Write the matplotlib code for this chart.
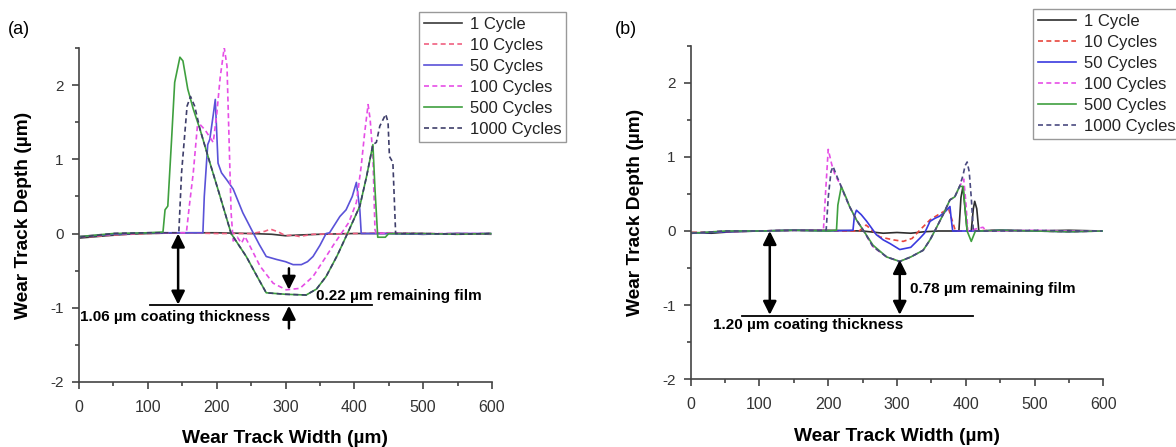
import numpy as np
import matplotlib.pyplot as plt
from matplotlib.ticker import MultipleLocator

plt.rcParams['font.family'] = ['Liberation Sans', 'DejaVu Sans']
plt.rcParams['axes.unicode_minus'] = False

labels = ['1 Cycle', '10 Cycles', '50 Cycles', '100 Cycles', '500 Cycles', '1000 Cycles']

# ---- panel (a) profiles: width (um), depth (um)
a1_x = [2, 15, 40, 70, 100, 150, 200, 250, 280, 300, 320, 350, 400, 450, 500, 550, 598]
a1_y = [-0.06, -0.05, -0.03, -0.01, 0.0, 0.01, 0.01, 0.0, -0.01, -0.03, -0.02, -0.01, 0.0, 0.0, -0.01, 0.0, -0.01]

a10_x = [2, 20, 50, 100, 150, 200, 250, 270, 278, 290, 300, 310, 320, 340, 400, 450, 500, 550, 598]
a10_y = [-0.05, -0.04, -0.02, 0.0, 0.01, 0.0, 0.0, 0.03, 0.06, 0.02, -0.03, -0.02, -0.04, -0.01, 0.0, 0.01, 0.0, -0.01, 0.0]

a50_x = [2, 50, 100, 150, 180, 182, 187, 190, 195, 198, 202, 207, 215, 224, 238, 253, 262, 272, 287,
         300, 311, 323, 332, 340, 350, 359, 364, 379, 388, 397, 403, 408, 410, 450, 500, 550, 598]
a50_y = [-0.04, -0.01, 0.01, 0.01, 0.01, 0.5, 1.2, 1.27, 1.6, 1.81, 0.95, 0.82, 0.72, 0.6, 0.28, 0.01, -0.15, -0.31, -0.35,
         -0.38, -0.42, -0.42, -0.38, -0.31, -0.16, 0.0, 0.01, 0.23, 0.32, 0.5, 0.69, 0.32, 0.0, 0.0, -0.01, 0.0, 0.0]

a100_x = [2, 50, 100, 156, 160, 166, 172, 176, 183, 195, 200, 205, 211, 215, 218, 221, 224, 230, 236, 241,
          250, 263, 282, 301, 321, 340, 359, 370, 381, 392, 403, 410, 415, 420, 423, 427, 430, 432, 460, 500, 550, 598]
a100_y = [-0.04, 0.0, 0.01, 0.01, 0.35, 0.82, 1.45, 1.47, 1.4, 1.23, 1.6, 2.1, 2.51, 2.26, 1.27, 0.28, -0.1, -0.05, -0.13, -0.04,
          -0.2, -0.44, -0.67, -0.76, -0.74, -0.58, -0.31, -0.15, 0.0, 0.15, 0.42, 0.91, 1.36, 1.74, 1.54, 1.04, 0.05, 0.0, 0.01, 0.0, 0.0, 0.0]

a500_x = [2, 50, 100, 122, 125, 129, 134.5, 139, 146.6, 151, 158, 166, 176, 190, 205, 221, 243, 260, 272,
          300, 330, 345, 359, 375, 390, 408, 418, 427, 430, 434, 445, 450, 500, 550, 598]
a500_y = [-0.04, 0.0, 0.01, 0.02, 0.32, 0.37, 1.27, 2.04, 2.38, 2.33, 1.95, 1.68, 1.4, 0.96, 0.5, 0.0, -0.31, -0.6, -0.8,
          -0.82, -0.83, -0.75, -0.58, -0.3, 0.0, 0.37, 0.78, 1.2, 0.6, -0.05, -0.05, 0.0, 0.0, -0.01, 0.0]

a1000_x = [2, 50, 100, 145, 149, 157, 162, 168, 176, 190, 205, 221, 243, 260, 272, 300, 330, 345, 359,
           375, 390, 408, 418, 427, 432, 437, 445.6, 449, 451, 456, 460, 500, 550, 598]
a1000_y = [-0.05, 0.0, 0.01, 0.01, 0.82, 1.72, 1.85, 1.72, 1.4, 0.96, 0.5, 0.0, -0.31, -0.6, -0.8, -0.82, -0.83, -0.75, -0.58,
           -0.3, 0.0, 0.37, 0.78, 1.2, 1.23, 1.45, 1.61, 1.5, 1.04, 0.96, 0.0, 0.0, -0.01, 0.0]

# ---- panel (b) profiles
b1_x = [2, 30, 60, 100, 150, 200, 250, 280, 300, 320, 340, 360, 390, 393, 396, 399, 402, 408, 411, 413,
        416, 419, 450, 500, 550, 598]
b1_y = [-0.02, -0.03, -0.01, 0.0, 0.01, 0.01, 0.0, -0.03, -0.02, -0.03, -0.01, 0.0, 0.0, 0.45, 0.6, 0.3, 0.0, 0.0, 0.3, 0.4,
        0.3, 0.0, 0.01, 0.0, 0.01, 0.0]

b10_x = [2, 50, 100, 150, 200, 245, 255, 265, 275, 295, 309, 322, 333, 348, 360, 375, 385, 400, 450, 500, 550, 598]
b10_y = [-0.02, -0.01, 0.0, 0.01, 0.0, 0.0, 0.08, 0.0, -0.08, -0.12, -0.14, -0.1, 0.01, 0.15, 0.22, 0.3, 0.0, 0.0, 0.01, 0.0, -0.01, 0.0]

b50_x = [2, 50, 100, 150, 200, 236, 238, 241, 248, 256, 263, 270, 280, 290, 304, 320, 333, 340, 348, 355,
         362, 370, 377, 379, 381, 420, 450, 500, 550, 598]
b50_y = [-0.03, -0.01, 0.0, 0.01, 0.0, 0.01, 0.2, 0.28, 0.22, 0.13, 0.04, -0.05, -0.12, -0.17, -0.25, -0.22, -0.1, -0.03, 0.13, 0.17,
         0.2, 0.26, 0.33, 0.15, 0.0, 0.0, 0.01, 0.0, -0.01, 0.0]

b100_x = [2, 50, 100, 150, 193, 196, 200, 205, 210, 217, 224, 231, 241, 251, 265, 285, 304, 320, 338, 348,
          356, 367, 377, 384, 391, 397, 400, 403, 420, 425, 430, 450, 500, 550, 598]
b100_y = [-0.03, 0.0, 0.0, 0.01, 0.01, 0.5, 1.1, 0.9, 0.75, 0.64, 0.48, 0.33, 0.15, 0.01, -0.21, -0.35, -0.41, -0.35, -0.26, -0.12,
          0.02, 0.22, 0.42, 0.46, 0.6, 0.7, 0.4, 0.0, 0.04, 0.05, 0.0, 0.0, 0.01, 0.0, 0.0]

b500_x = [2, 50, 100, 150, 200, 212, 214, 219, 226, 231, 241, 251, 265, 285, 304, 320, 338, 348, 356, 367,
          377, 384, 391, 396, 402, 408, 414, 420, 450, 500, 550, 598]
b500_y = [-0.03, 0.0, 0.0, 0.01, 0.0, 0.01, 0.35, 0.6, 0.45, 0.33, 0.15, 0.01, -0.19, -0.35, -0.41, -0.35, -0.26, -0.12, 0.02, 0.22,
          0.42, 0.46, 0.6, 0.6, 0.0, -0.14, 0.0, 0.0, 0.01, 0.0, -0.01, 0.0]

b1000_x = [2, 50, 100, 150, 197, 200, 204, 207, 212, 217, 224, 231, 241, 251, 265, 285, 304, 320, 338, 348,
           356, 367, 377, 384, 391, 396, 399, 402, 405, 408, 411, 450, 500, 550, 598]
b1000_y = [-0.03, 0.0, 0.0, 0.01, 0.01, 0.45, 0.8, 0.87, 0.75, 0.64, 0.48, 0.33, 0.15, 0.01, -0.21, -0.35, -0.41, -0.35, -0.26, -0.12,
           0.02, 0.22, 0.42, 0.46, 0.6, 0.75, 0.88, 0.93, 0.8, 0.45, 0.0, 0.0, 0.01, 0.0, 0.0]

series_a = [(a1_x, a1_y), (a10_x, a10_y), (a50_x, a50_y), (a100_x, a100_y), (a500_x, a500_y), (a1000_x, a1000_y)]
series_b = [(b1_x, b1_y), (b10_x, b10_y), (b50_x, b50_y), (b100_x, b100_y), (b500_x, b500_y), (b1000_x, b1000_y)]

colors_a = ['#3a3a3a', '#f06080', '#5a52d8', '#e64ee6', '#3fa03f', '#3e3e6a']
colors_b = ['#2e2e2e', '#e8453c', '#3a3adf', '#e64ee6', '#3fa03f', '#4a4a80']
styles = ['-', '--', '-', '--', '-', '--']


def style_axes(ax):
    ax.set_xlim(0, 600)
    ax.set_ylim(-2, 2.5)
    ax.spines['top'].set_visible(False)
    ax.spines['right'].set_visible(False)
    for s in ['left', 'bottom']:
        ax.spines[s].set_color('#444444')
        ax.spines[s].set_linewidth(1.2)
    ax.xaxis.set_major_locator(MultipleLocator(100))
    ax.xaxis.set_minor_locator(MultipleLocator(50))
    ax.set_yticks([-2, -1, 0, 1, 2])
    ax.yaxis.set_minor_locator(MultipleLocator(0.5))
    ax.tick_params(which='both', direction='out', color='#444444', width=1.2)
    ax.tick_params(which='major', length=5)
    ax.tick_params(which='minor', length=3)
    ax.tick_params(axis='x', labelsize=11.5, labelcolor='#333333', pad=8)
    ax.tick_params(axis='y', labelsize=11, labelcolor='#333333', pad=6)
    ax.set_xlabel('Wear Track Width (µm)', fontsize=13.8, fontweight='bold', labelpad=11)
    ax.set_ylabel('Wear Track Depth (µm)', fontsize=13.8, fontweight='bold', labelpad=13)


def arrow(ax, x0, y0, x1, y1, style):
    ax.annotate('', xy=(x1, y1), xytext=(x0, y0),
                arrowprops=dict(arrowstyle=style, color='black', lw=1.8,
                                mutation_scale=20, shrinkA=0, shrinkB=0))


fig = plt.figure(figsize=(11.76, 4.47), dpi=100)
ax1 = fig.add_axes([79 / 1176, 1 - 381.7 / 447, 413 / 1176, 333.4 / 447])
ax2 = fig.add_axes([690.7 / 1176, 1 - 379.4 / 447, 412.6 / 1176, 333.9 / 447])

for ax, series, cols in [(ax1, series_a, colors_a), (ax2, series_b, colors_b)]:
    style_axes(ax)
    for (x, y), c, ls, lab in zip(series, cols, styles, labels):
        ax.plot(x, y, color=c, ls=ls, lw=1.2, label=lab,
                dashes=(3, 2) if ls == '--' else (None, None))

# (a) coating thickness / remaining film
arrow(ax1, 144, 0, 144, -0.96, '<|-|>')
ax1.plot([103, 425], [-0.96, -0.96], color='black', lw=1.3)
arrow(ax1, 305, -0.47, 305, -0.76, '-|>')
arrow(ax1, 305, -1.28, 305, -0.975, '-|>')
ax1.text(2, -1.13, '1.06 µm coating thickness', fontsize=11, fontweight='bold', va='center')
ax1.text(345, -0.84, '0.22 µm remaining film', fontsize=11, fontweight='bold', va='center')

# (b)
arrow(ax2, 115, 0, 115, -1.13, '<|-|>')
ax2.plot([74, 410], [-1.15, -1.15], color='black', lw=1.3)
arrow(ax2, 304, -0.39, 304, -1.13, '<|-|>')
ax2.text(32, -1.27, '1.20 µm coating thickness', fontsize=11, fontweight='bold', va='center')
ax2.text(319, -0.78, '0.78 µm remaining film', fontsize=11, fontweight='bold', va='center')

fig.text(8 / 1176, 1 - 30 / 447, '(a)', fontsize=13, va='center')
fig.text(615 / 1176, 1 - 30 / 447, '(b)', fontsize=13, va='center')

leg_kw = dict(loc='upper left', bbox_transform=fig.transFigure, borderaxespad=0,
              fontsize=12, handlelength=2.3, handletextpad=0.45, labelspacing=0.36,
              borderpad=0.3, fancybox=False, framealpha=1, edgecolor='#999999')
l1 = ax1.legend(bbox_to_anchor=(419 / 1176, 1 - 12 / 447), **leg_kw)
l2 = ax2.legend(bbox_to_anchor=(1033 / 1176, 1 - 9 / 447), **leg_kw)
for leg in (l1, l2):
    leg.get_frame().set_linewidth(1.0)
    for t in leg.get_texts():
        t.set_color('#222222')

fig.savefig('out.png', dpi=100)
